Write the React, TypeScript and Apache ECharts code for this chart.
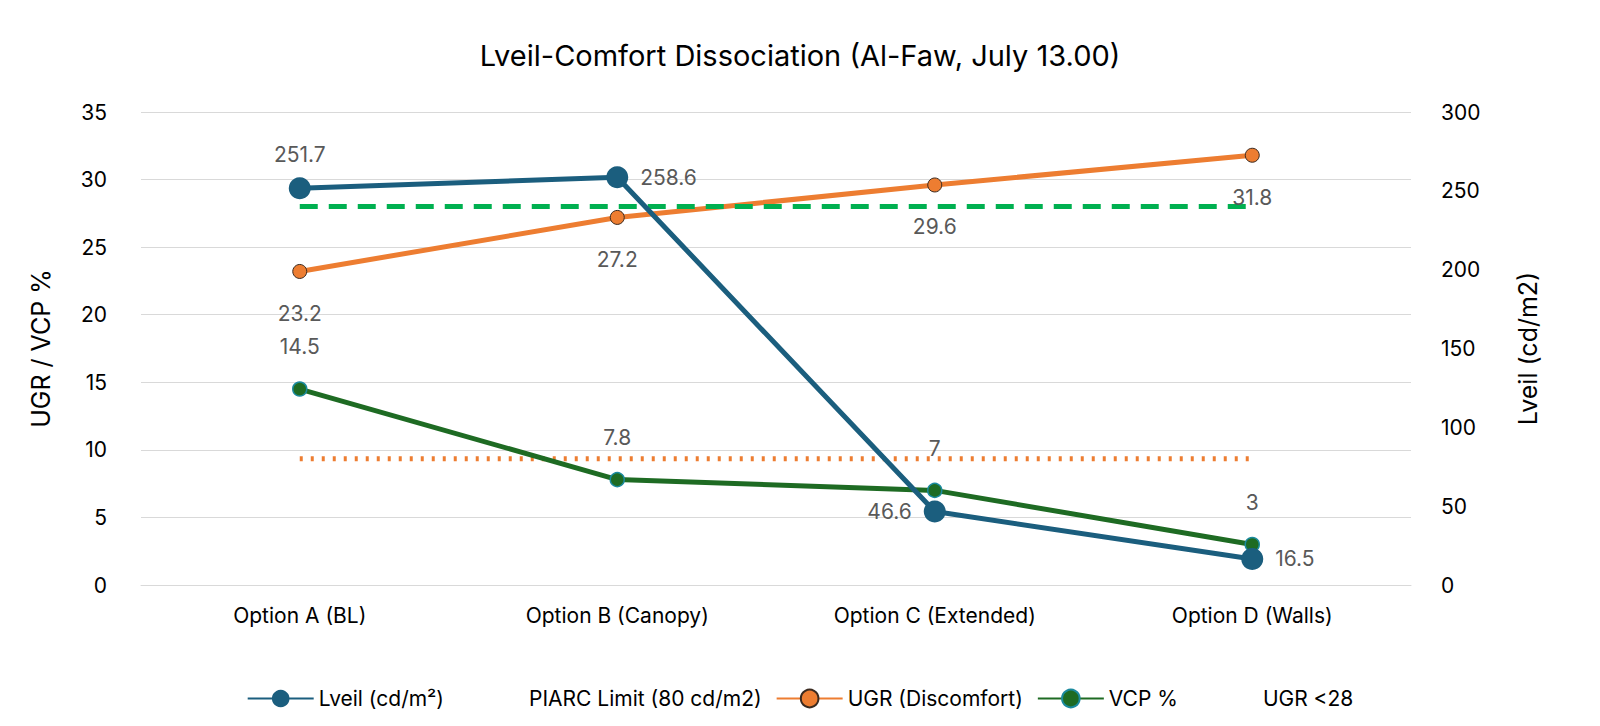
import { useRef, useEffect } from "react";
import * as echarts from "echarts";

const categories = ["Option A (BL)", "Option B (Canopy)", "Option C (Extended)", "Option D (Walls)"];
const lveil = [251.7, 258.6, 46.6, 16.5];
const piarc = [80, 80, 80, 80];
const ugr = [23.2, 27.2, 29.6, 31.8];
const vcp = [14.5, 7.8, 7, 3];
const ugrLimit = [28, 28, 28, 28];
const lveilLabelPos = ["top", "right", "left", "right"];

const App = () => {
  const chartRef = useRef<HTMLDivElement>(null);

  useEffect(() => {
    if (!chartRef.current) return;
    const chart = echarts.init(chartRef.current, null, { renderer: "svg" });
    const font = "Inter, 'Noto Sans', sans-serif";
    const lbl = { fontSize: 21, color: "#595959", fontFamily: font };
    chart.setOption({
      animation: false,
      textStyle: { fontFamily: font },
      title: {
        text: "Lveil-Comfort Dissociation (Al-Faw, July 13.00)",
        left: "center",
        top: 28,
        textStyle: { fontSize: 29, fontWeight: "normal", color: "#000", fontFamily: font },
      },
      grid: { left: 133, right: 181, top: 104, bottom: 133 },
      legend: {
        bottom: 4,
        left: "center",
        itemWidth: 66,
        itemHeight: 22,
        itemGap: 14,
        textStyle: { fontSize: 21, color: "#000", fontFamily: font },
        data: [
          { name: "Lveil (cd/m²)" },
          { name: "PIARC Limit (80 cd/m2)", icon: "none" },
          { name: "UGR (Discomfort)" },
          { name: "VCP %" },
          { name: "UGR <28", icon: "none" },
        ],
      },
      xAxis: {
        type: "category",
        data: categories,
        axisTick: { show: false },
        axisLine: { lineStyle: { color: "#d9d9d9" } },
        axisLabel: { fontSize: 21, color: "#000", margin: 20 },
      },
      yAxis: [
        {
          type: "value",
          min: 0,
          max: 35,
          interval: 5,
          name: "UGR / VCP %",
          nameLocation: "middle",
          nameGap: 88,
          nameTextStyle: { fontSize: 25, color: "#000" },
          axisLabel: { fontSize: 21, color: "#000", margin: 34 },
          splitLine: { lineStyle: { color: "#d9d9d9" } },
        },
        {
          type: "value",
          min: 0,
          max: 300,
          interval: 50,
          name: "Lveil (cd/m2)",
          nameLocation: "middle",
          nameGap: 104,
          nameTextStyle: { fontSize: 25, color: "#000" },
          axisLabel: { fontSize: 21, color: "#000", margin: 30 },
          splitLine: { show: false },
        },
      ],
      series: [
        {
          name: "Lveil (cd/m²)",
          type: "line",
          yAxisIndex: 1,
          data: lveil.map((v, i) => ({ value: v, label: { position: lveilLabelPos[i] } })),
          symbol: "circle",
          symbolSize: 22,
          lineStyle: { width: 5, color: "#1B5E7E" },
          itemStyle: { color: "#1B5E7E" },
          label: { show: true, distance: 12, ...lbl },
          z: 4,
        },
        {
          name: "PIARC Limit (80 cd/m2)",
          type: "line",
          yAxisIndex: 1,
          data: piarc,
          symbol: "none",
          lineStyle: { width: 5, type: [3, 8], color: "#ED7D31" },
          itemStyle: { color: "#ED7D31" },
        },
        {
          name: "UGR (Discomfort)",
          type: "line",
          yAxisIndex: 0,
          data: ugr,
          symbol: "circle",
          symbolSize: 14,
          lineStyle: { width: 5, color: "#ED7D31" },
          itemStyle: { color: "#ED7D31", borderColor: "#3a2a20", borderWidth: 1 },
          label: { show: true, position: "bottom", distance: 24, ...lbl },
          z: 3,
        },
        {
          name: "VCP %",
          type: "line",
          yAxisIndex: 0,
          data: vcp,
          symbol: "circle",
          symbolSize: 14,
          lineStyle: { width: 5, color: "#1E6B23" },
          itemStyle: { color: "#1E6B23", borderColor: "#1B8A9E", borderWidth: 1.5 },
          label: { show: true, position: "top", distance: 24, ...lbl },
          z: 3,
        },
        {
          name: "UGR <28",
          type: "line",
          yAxisIndex: 0,
          data: ugrLimit,
          symbol: "none",
          lineStyle: { width: 5, type: [18, 11], color: "#00B050" },
          itemStyle: { color: "#00B050" },
        },
      ],
    });
    return () => chart.dispose();
  }, []);

  return <div ref={chartRef} style={{ width: 1584, height: 710 }}></div>;
};

export default App;
